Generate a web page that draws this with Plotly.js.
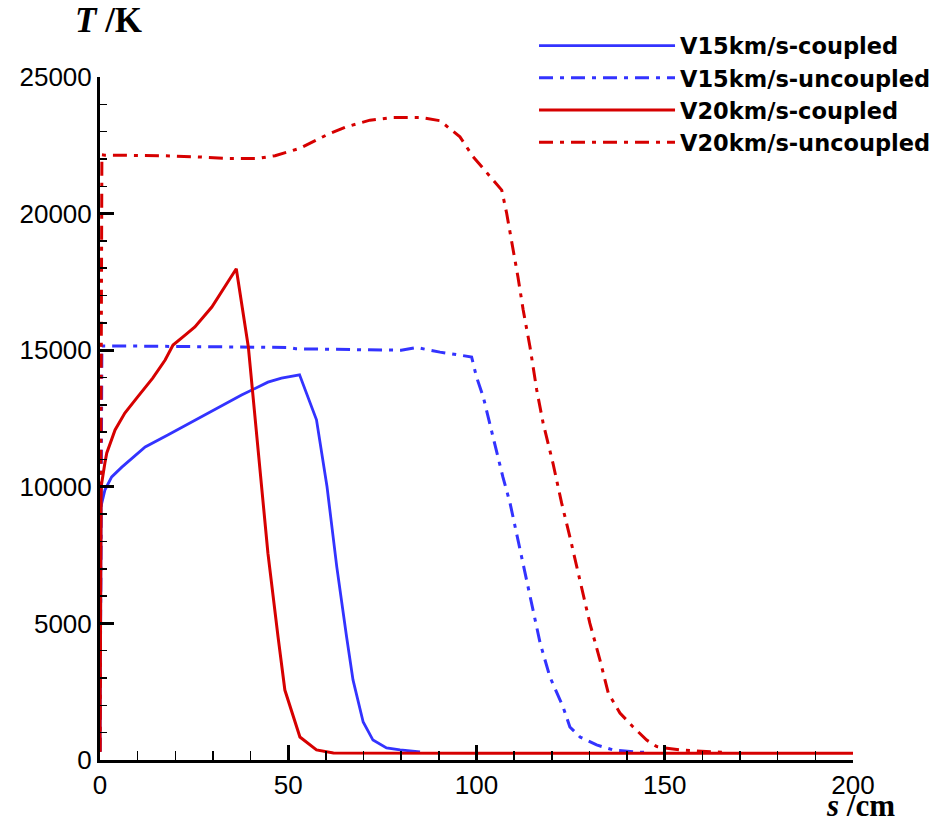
<!DOCTYPE html>
<html>
<head>
<meta charset="utf-8">
<script src="https://cdn.plot.ly/plotly-3.0.1.min.js"></script>
<style>html,body{margin:0;padding:0;background:#fff;}#chart{width:938px;height:826px;}</style>
</head>
<body>
<div id="chart"></div>
<script>
// s (cm) and T (K) for each series
const v15c_s = [0, 0.3, 1.3, 3.1, 5.8, 12, 18, 25.2, 31.4, 37.6, 44.6, 48.2, 53, 57.5, 60.3, 62.9, 65.5, 67.2, 69.9, 72.5, 76.1, 79.7, 85];
const v15c_T = [300, 9300, 9880, 10360, 10720, 11460, 11900, 12440, 12880, 13360, 13830, 13980, 14100, 12450, 10000, 7060, 4500, 2930, 1390, 730, 440, 370, 300];

const v15u_s = [0, 0.5, 10, 30, 50, 52, 70, 80, 84, 90.3, 95.6, 98.7, 100, 101.8, 104.4, 107, 108.9, 111.6, 114.2, 116.9, 119.5, 123, 124.8, 127.5, 131.9, 136.3, 142.5, 145];
const v15u_T = [300, 15150, 15150, 15120, 15100, 15050, 15030, 15000, 15100, 14930, 14820, 14750, 14020, 13290, 11820, 10360, 9410, 7690, 5970, 4280, 3040, 1940, 1210, 840, 550, 370, 290, 280];

const v20c_s = [0, 0.3, 1.3, 1.8, 4, 6.6, 10, 14, 17.3, 19.4, 22.6, 25.2, 29.7, 33.2, 36.2, 39.4, 42, 44.6, 47.3, 49.1, 53.1, 57.5, 62, 80, 100, 150, 200];
const v20c_T = [300, 10000, 10870, 11240, 12080, 12700, 13290, 13980, 14640, 15190, 15550, 15850, 16580, 17310, 17980, 15120, 11460, 7570, 4500, 2560, 840, 370, 260, 250, 250, 250, 250];

const v20u_s = [0, 0.5, 1.3, 16.4, 25.2, 34, 42, 46.5, 53.1, 60.2, 65.5, 71.7, 77.8, 85, 90.3, 95.6, 99, 104.4, 106.7, 108, 109.3, 111, 112.4, 114.2, 116, 117.7, 120.3, 122.6, 124.8, 127.5, 130.1, 132.8, 135, 138.1, 141.6, 145.2, 147.9, 150, 154, 162.8, 166];
const v20u_T = [300, 22150, 22140, 22120, 22080, 22020, 22020, 22120, 22390, 22880, 23180, 23420, 23520, 23520, 23400, 22810, 22100, 21230, 20860, 20020, 19030, 17690, 16470, 15130, 13540, 12330, 10870, 9410, 8170, 6590, 5010, 3660, 2450, 1720, 1210, 730, 490, 440, 370, 300, 280];

const seriesNames = ['V15km/s-coupled', 'V15km/s-uncoupled', 'V20km/s-coupled', 'V20km/s-uncoupled'];
const xTickVals = [0, 50, 100, 150, 200];
const yTickVals = [0, 5000, 10000, 15000, 20000, 25000];

const BLUE = '#3333ff';
const RED = '#d60000';
const DASHDOT = '14px,7px,4px,7px';

const traces = [
  {x: v15c_s, y: v15c_T, name: seriesNames[0], mode: 'lines', line: {color: BLUE, width: 2.8}},
  {x: v15u_s, y: v15u_T, name: seriesNames[1], mode: 'lines', line: {color: BLUE, width: 3, dash: DASHDOT}},
  {x: v20c_s, y: v20c_T, name: seriesNames[2], mode: 'lines', line: {color: RED, width: 3}},
  {x: v20u_s, y: v20u_T, name: seriesNames[3], mode: 'lines', line: {color: RED, width: 3, dash: DASHDOT}}
];

const layout = {
  width: 938, height: 826,
  margin: {l: 100, r: 85, t: 77, b: 66, autoexpand: false},
  paper_bgcolor: '#fff', plot_bgcolor: '#fff',
  font: {family: 'Liberation Sans, Arial, sans-serif', color: '#000'},
  showlegend: true,
  legend: {
    x: 0.5764, y: 1.077, xanchor: 'left', yanchor: 'top',
    bgcolor: 'rgba(0,0,0,0)', borderwidth: 0,
    itemwidth: 136,
    font: {family: 'DejaVu Sans, sans-serif', size: 22.5, weight: 700, color: '#000'},
    tracegroupgap: 0
  },
  xaxis: {
    range: [0, 200], tickvals: xTickVals, ticktext: xTickVals.map(String),
    showgrid: false, zeroline: false, showline: true, linecolor: '#000', linewidth: 3,
    ticks: 'inside', ticklen: 15, tickwidth: 3, tickcolor: '#000',
    minor: {ticks: 'inside', dtick: 10, ticklen: 9, tickwidth: 1.5, tickcolor: '#000', showgrid: false},
    tickfont: {family: 'Liberation Sans, Arial, sans-serif', size: 26, color: '#000'},
    fixedrange: true
  },
  yaxis: {
    range: [0, 25000], tickvals: yTickVals, ticktext: yTickVals.map(String),
    showgrid: false, zeroline: false, showline: true, linecolor: '#000', linewidth: 3,
    ticks: 'inside', ticklen: 14, tickwidth: 3, tickcolor: '#000',
    minor: {ticks: 'inside', dtick: 1000, ticklen: 7, tickwidth: 1.5, tickcolor: '#000', showgrid: false},
    tickfont: {family: 'Liberation Sans, Arial, sans-serif', size: 26, color: '#000'},
    fixedrange: true
  },
  annotations: [
    {xref: 'paper', yref: 'paper', x: -0.036, y: 1.082, xanchor: 'left', yanchor: 'middle', showarrow: false,
     text: '<b><i>T</i> /K</b>', font: {family: 'Liberation Serif, Times New Roman, serif', size: 35, color: '#000'}},
    {xref: 'paper', yref: 'paper', x: 0.962, y: -0.0945, xanchor: 'left', yanchor: 'bottom', showarrow: false,
     text: '<b><i>s</i> /cm</b>', font: {family: 'Liberation Serif, Times New Roman, serif', size: 31, color: '#000'}}
  ]
};

Plotly.newPlot('chart', traces, layout, {displayModeBar: false, staticPlot: true});
</script>
</body>
</html>
